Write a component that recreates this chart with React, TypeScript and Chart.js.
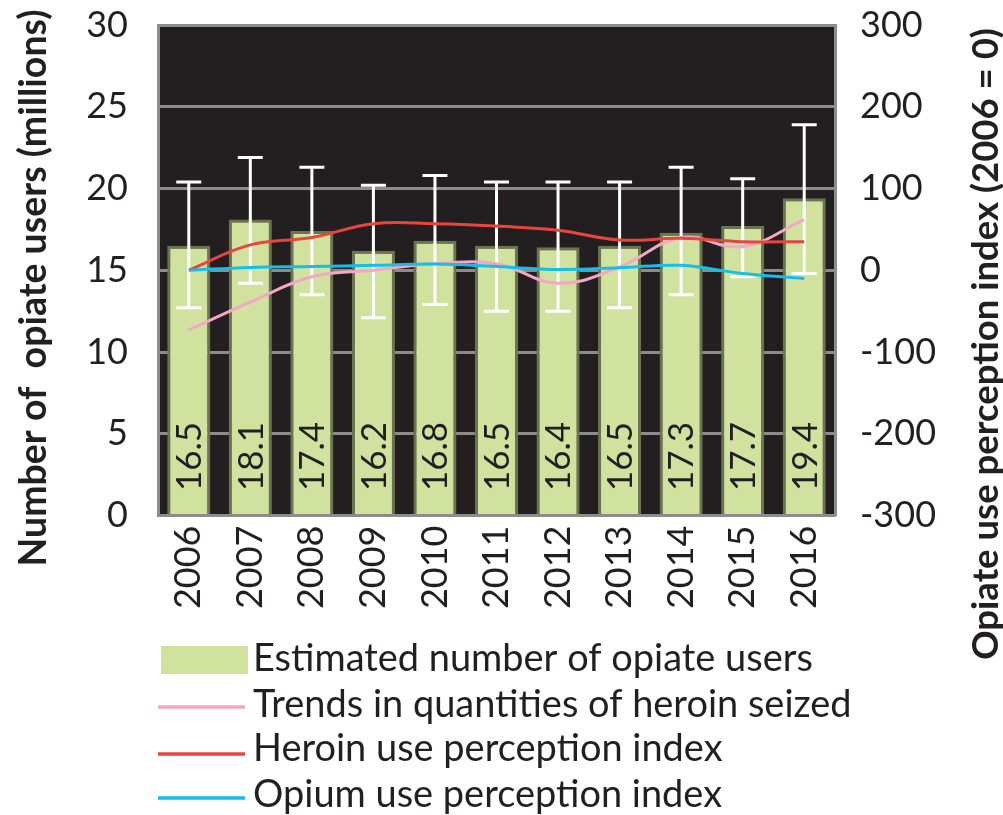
import React, { useEffect, useRef } from 'react';
import { Chart, registerables } from 'chart.js';

Chart.register(...registerables);

const years = ['2006', '2007', '2008', '2009', '2010', '2011', '2012', '2013', '2014', '2015', '2016'];
const opiateUsers = [16.5, 18.1, 17.4, 16.2, 16.8, 16.5, 16.4, 16.5, 17.3, 17.7, 19.4];
const usersLow = [12.7, 14.2, 13.5, 12.1, 12.9, 12.5, 12.5, 12.7, 13.5, 14.6, 14.8];
const usersHigh = [20.4, 21.9, 21.3, 20.2, 20.8, 20.4, 20.4, 20.4, 21.3, 20.6, 23.9];
const heroinSeized = [-73, -39, -8, 0, 8, 8, -16, 4, 40, 29, 62];
const heroinIndex = [0, 31, 40, 57, 57, 54, 49, 37, 39, 35, 35];
const opiumIndex = [0, 3.5, 4.5, 6, 7.5, 4.5, 1, 3, 6, -4, -10];

const leftTitle = 'Number of  opiate users (millions)';
const rightTitle = 'Opiate use perception index (2006 = 0)';
const legendLabels = [
  'Estimated number of opiate users',
  'Trends in quantities of heroin seized',
  'Heroin use perception index',
  'Opium use perception index',
];

const FONT = 'Lato, "Noto Sans", sans-serif';
const TEXT = '#231f20';
const GRID = '#8c8c8c';

function fitSize(ctx: CanvasRenderingContext2D, text: string, weight: string, target: number) {
  ctx.font = `${weight} 100px ${FONT}`;
  const w = ctx.measureText(text).width;
  return (100 * target) / w;
}

const customPlugin = {
  id: 'customDraw',
  beforeDraw(chart: any) {
    const { ctx, chartArea: a } = chart;
    ctx.save();
    ctx.fillStyle = '#231f20';
    ctx.fillRect(a.left, a.top, a.right - a.left, a.bottom - a.top);
    ctx.restore();
  },
  afterDatasetDraw(chart: any, args: any) {
    if (args.index !== 0) return;
    const { ctx } = chart;
    const y = chart.scales.y;
    const meta = chart.getDatasetMeta(0);
    ctx.save();
    meta.data.forEach((bar: any, i: number) => {
      const x = bar.x;
      const yt = y.getPixelForValue(usersHigh[i]);
      const yb = y.getPixelForValue(usersLow[i]);
      ctx.strokeStyle = '#ffffff';
      ctx.lineWidth = 3;
      ctx.beginPath();
      ctx.moveTo(x, yt);
      ctx.lineTo(x, yb);
      ctx.moveTo(x - 12.5, yt);
      ctx.lineTo(x + 12.5, yt);
      ctx.moveTo(x - 12.5, yb);
      ctx.lineTo(x + 12.5, yb);
      ctx.stroke();
      ctx.save();
      ctx.translate(x + 1, y.bottom - 59);
      ctx.rotate(-Math.PI / 2);
      ctx.fillStyle = TEXT;
      ctx.font = `35px ${FONT}`;
      ctx.textAlign = 'center';
      ctx.textBaseline = 'middle';
      ctx.fillText(opiateUsers[i].toFixed(1), 0, 0);
      ctx.restore();
    });
    ctx.restore();
  },
  afterDraw(chart: any) {
    const { ctx } = chart;
    ctx.save();
    ctx.fillStyle = TEXT;
    ctx.textAlign = 'center';
    ctx.textBaseline = 'middle';

    const ls = fitSize(ctx, leftTitle, 'bold', 557);
    ctx.font = `bold ${ls}px ${FONT}`;
    ctx.save();
    ctx.translate(34, 288);
    ctx.rotate(-Math.PI / 2);
    ctx.fillText(leftTitle, 0, 0);
    ctx.restore();

    const rs = fitSize(ctx, rightTitle, 'bold', 632);
    ctx.font = `bold ${rs}px ${FONT}`;
    ctx.save();
    ctx.translate(986, 344);
    ctx.rotate(-Math.PI / 2);
    ctx.fillText(rightTitle, 0, 0);
    ctx.restore();

    // legend
    const ds = chart.data.datasets;
    const rows = [
      { ds: ds[0], y: 660, base: 671 },
      { ds: ds[1], y: 707, base: 717 },
      { ds: ds[2], y: 754, base: 761 },
      { ds: ds[3], y: 798, base: 807 },
    ];
    const gs = fitSize(ctx, legendLabels[0], 'normal', 560);
    ctx.font = `${gs}px ${FONT}`;
    ctx.textAlign = 'left';
    ctx.textBaseline = 'alphabetic';
    rows.forEach((r, i) => {
      if (i === 0) {
        ctx.fillStyle = r.ds.backgroundColor;
        ctx.fillRect(161, 646, 87, 28);
      } else {
        ctx.strokeStyle = r.ds.borderColor;
        ctx.lineWidth = 3.5;
        ctx.beginPath();
        ctx.moveTo(158, r.y);
        ctx.lineTo(245, r.y);
        ctx.stroke();
      }
      ctx.fillStyle = TEXT;
      ctx.fillText(legendLabels[i], 253, r.base);
    });
    ctx.restore();
  },
};

export default function App() {
  const ref = useRef<HTMLCanvasElement>(null);
  useEffect(() => {
    document.body.style.margin = '0';
    const canvas = ref.current!;
    const noVPad = (s: any, w: number) => {
      s.width = w;
      s.paddingTop = 0;
      s.paddingBottom = 0;
    };
    const chart = new Chart(canvas, {
      type: 'bar',
      data: {
        labels: years,
        datasets: [
          {
            type: 'bar',
            label: legendLabels[0],
            data: opiateUsers,
            backgroundColor: '#d1e29f',
            borderColor: '#6b7350',
            borderWidth: { left: 3, right: 3, top: 3, bottom: 0 },
            borderSkipped: 'bottom',
            categoryPercentage: 1,
            barPercentage: 0.7,
            yAxisID: 'y',
            order: 10,
          },
          {
            type: 'line',
            label: legendLabels[1],
            data: heroinSeized,
            borderColor: '#f4a6c8',
            backgroundColor: '#f4a6c8',
            borderWidth: 3,
            pointRadius: 0,
            tension: 0.4,
            yAxisID: 'y1',
            order: 3,
          },
          {
            type: 'line',
            label: legendLabels[2],
            data: heroinIndex,
            borderColor: '#e8453c',
            backgroundColor: '#e8453c',
            borderWidth: 3,
            pointRadius: 0,
            tension: 0.4,
            yAxisID: 'y1',
            order: 2,
          },
          {
            type: 'line',
            label: legendLabels[3],
            data: opiumIndex,
            borderColor: '#12beea',
            backgroundColor: '#12beea',
            borderWidth: 3,
            pointRadius: 0,
            tension: 0.4,
            yAxisID: 'y1',
            order: 1,
          },
        ] as any,
      },
      options: {
        animation: false,
        responsive: false,
        layout: { padding: { top: 25, bottom: 190, left: 0, right: 0 } },
        plugins: { legend: { display: false }, tooltip: { enabled: false } },
        scales: {
          x: {
            grid: { display: false, drawTicks: false },
            border: { display: true, color: GRID, width: 3 },
            ticks: {
              color: TEXT,
              font: { family: FONT, size: 36 },
              minRotation: 90,
              maxRotation: 90,
              padding: 10,
              autoSkip: false,
            },
            afterFit: (s: any) => {
              s.height = 815 - 190 - 515.5;
              s.paddingLeft = 0;
              s.paddingRight = 0;
            },
          },
          y: {
            position: 'left',
            min: 0,
            max: 30,
            grid: { color: GRID, lineWidth: 3, drawTicks: false },
            border: { display: true, color: GRID, width: 3 },
            ticks: { stepSize: 5, color: TEXT, font: { family: FONT, size: 36 }, padding: 30 },
            afterFit: (s: any) => noVPad(s, 158),
          },
          y1: {
            position: 'right',
            min: -300,
            max: 300,
            grid: { display: false, drawTicks: false },
            border: { display: true, color: GRID, width: 3 },
            ticks: { stepSize: 100, color: TEXT, font: { family: FONT, size: 36 }, padding: 25 },
            afterFit: (s: any) => noVPad(s, 168),
          },
        },
      },
      plugins: [customPlugin],
    });
    return () => chart.destroy();
  }, []);
  return <canvas ref={ref} width={1003} height={815} style={{ display: 'block' }} />;
}
